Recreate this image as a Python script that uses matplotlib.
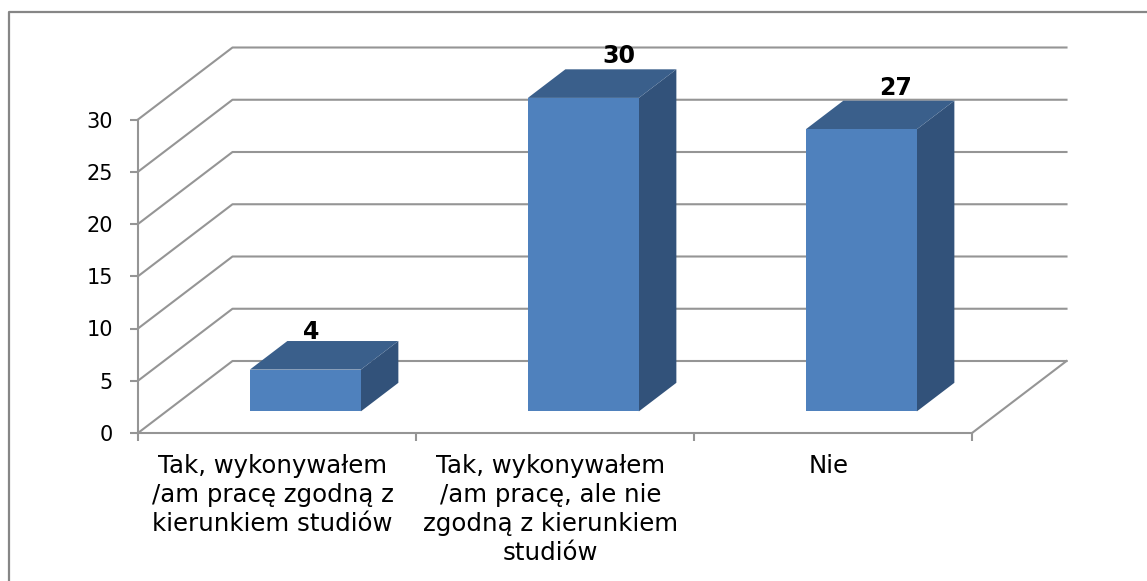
import matplotlib
matplotlib.use("Agg")
import matplotlib.pyplot as plt
from matplotlib.lines import Line2D
from matplotlib.patches import Polygon
from matplotlib.transforms import ScaledTranslation

categories = [
    "Tak, wykonywałem\n/am pracę zgodną z\nkierunkiem studiów",
    "Tak, wykonywałem\n/am pracę, ale nie\nzgodną z kierunkiem\nstudiów",
    "Nie",
]
values = [4, 30, 27]
y_ticks = [0, 5, 10, 15, 20, 25, 30]

W, H = 1147, 581
GRID = "#959595"
FRONT = "#4f81bd"
TOP = "#3a5f8b"
SIDE = "#32527a"

# oblique projection: how far the back wall sits from the front edge, in data units
DX = 94.5 / 278
DY = 72 / 10.45
BAR_W = 111 / 278
D0, D1 = 0.3, 0.697

# per bar nudge of the value label, in pixels
label_nudge = [(6, 38), (36, 42), (34, 41)]


def proj(x, y, d):
    return (x + d * DX, y + d * DY)


fig = plt.figure(figsize=(W / 100, H / 100), dpi=100)
# outer chart frame, only the top and left edges are in the crop
fig.add_artist(Line2D([8.5 / W, 8.5 / W, 1], [0, 1 - 12 / H, 1 - 12 / H],
                      color="#868686", lw=1.6, transform=fig.transFigure))

ax = fig.add_axes([138 / W, 1 - 433 / H, (972 - 138) / W, (433 - 119.5) / H])
ax.set_xlim(0, len(categories))
ax.set_ylim(0, 30)
ax.patch.set_visible(False)
for s in ["top", "right"]:
    ax.spines[s].set_visible(False)
for s in ["left", "bottom"]:
    ax.spines[s].set_color(GRID)
    ax.spines[s].set_linewidth(1.5)

# gridlines run along the side wall then across the back wall
n = len(categories)
for v in y_ticks:
    x0, y0 = proj(0, v, 1)
    x1, y1 = proj(n, v, 1)
    ax.plot([0, x0, x1], [v, y0, y1], color=GRID, lw=1.5, clip_on=False, zorder=1)
x0, y0 = proj(n, 0, 1)
ax.plot([n, x0], [0, y0], color=GRID, lw=1.5, clip_on=False, zorder=1)

# bars
for i, v in enumerate(values):
    l = i + 0.5 - BAR_W / 2
    r = i + 0.5 + BAR_W / 2
    front = [proj(l, 0, D0), proj(r, 0, D0), proj(r, v, D0), proj(l, v, D0)]
    side = [proj(r, 0, D0), proj(r, 0, D1), proj(r, v, D1), proj(r, v, D0)]
    top = [proj(l, v, D0), proj(r, v, D0), proj(r, v, D1), proj(l, v, D1)]
    ax.add_patch(Polygon(side, fc=SIDE, ec="none", clip_on=False, zorder=3))
    ax.add_patch(Polygon(top, fc=TOP, ec="none", clip_on=False, zorder=3))
    ax.add_patch(Polygon(front, fc=FRONT, ec="none", clip_on=False, zorder=4))
    ax.annotate(str(v), xy=proj(i + 0.5, v, D0), xytext=label_nudge[i],
                textcoords="offset pixels", ha="center", va="center",
                fontsize=17, fontweight="bold", color="black", zorder=5,
                annotation_clip=False)

ax.set_yticks(y_ticks)
ax.tick_params(axis="y", length=6, width=1.5, color=GRID, labelsize=15, pad=12)
ax.set_xticks(range(n + 1))
ax.set_xticklabels([])
ax.tick_params(axis="x", which="major", length=6, width=1.5, color=GRID)
ax.set_xticks([i + 0.5 for i in range(n)], minor=True)
ax.set_xticklabels(categories, minor=True, fontsize=17.6, linespacing=1.27)
ax.tick_params(axis="x", which="minor", length=0, pad=15)
# category labels sit a little left of the tick midpoints
shift = ScaledTranslation(-4.5 / 100, 0, fig.dpi_scale_trans)
for lab in ax.get_xticklabels(minor=True):
    lab.set_transform(lab.get_transform() + shift)

fig.savefig("out.png", dpi=100, facecolor="white")
plt.close(fig)
